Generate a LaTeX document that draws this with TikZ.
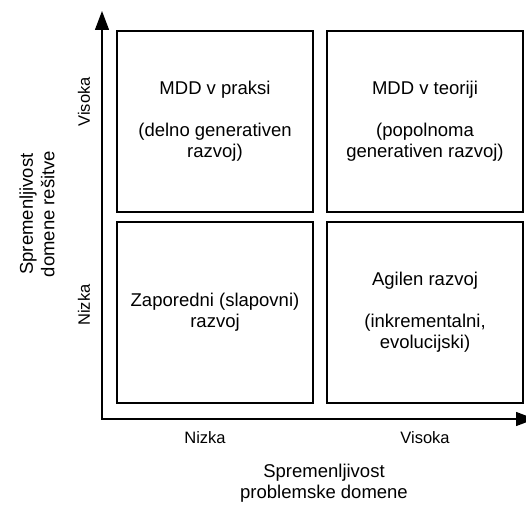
\documentclass[tikz,border=0pt]{standalone}
\usepackage{fontspec}
\setmainfont{Liberation Sans}
\usetikzlibrary{arrows.meta}
\begin{document}
\begin{tikzpicture}[x=1pt,y=-1pt,
  quad/.style={draw=black, line width=1.3pt, minimum width=196pt, minimum height=181pt,
    inner sep=0pt, align=center, font=\fontsize{18.5}{21}\selectfont},
  axislabel/.style={font=\fontsize{16.5}{19}\selectfont, inner sep=0pt},
  axistitle/.style={font=\fontsize{18.5}{21.5}\selectfont, align=center, inner sep=0pt},
  axisline/.style={line width=1.3pt, {Triangle[length=19pt,width=14pt]}-{Triangle[length=19pt,width=14pt]}}]
\clip (0,0) rectangle (526,508);
\fill[white] (0,0) rectangle (526,508);
\node[quad] (tl) at (215,121.5) {MDD v praksi\\[21pt](delno generativen\\razvoj)};
\node[quad] (tr) at (425,121.5) {MDD v teoriji\\[21pt](popolnoma\\generativen razvoj)};
\node[quad] (bl) at (215,312.5) {Zaporedni (slapovni)\\razvoj};
\node[quad] (br) at (425,312.5) {Agilen razvoj\\[21pt](inkrementalni,\\evolucijski)};
\coordinate (o) at (102,419);
\coordinate (ytip) at (102,11);
\coordinate (xtip) at (535,419);
\draw[axisline] (ytip) |- (xtip);
\node[axislabel, rotate=90] (yhigh) at (84,102) {Visoka};
\node[axislabel, rotate=90] (ylow) at (84,305) {Nizka};
\node[axislabel] (xlow) at (205,438) {Nizka};
\node[axislabel] (xhigh) at (425,438) {Visoka};
\node[axistitle, rotate=90] (ytitle) at (37,214) {Spremenljivost\\domene rešitve};
\node[axistitle] (xtitle) at (324,483) {Spremenljivost\\problemske domene};
\end{tikzpicture}
\end{document}
